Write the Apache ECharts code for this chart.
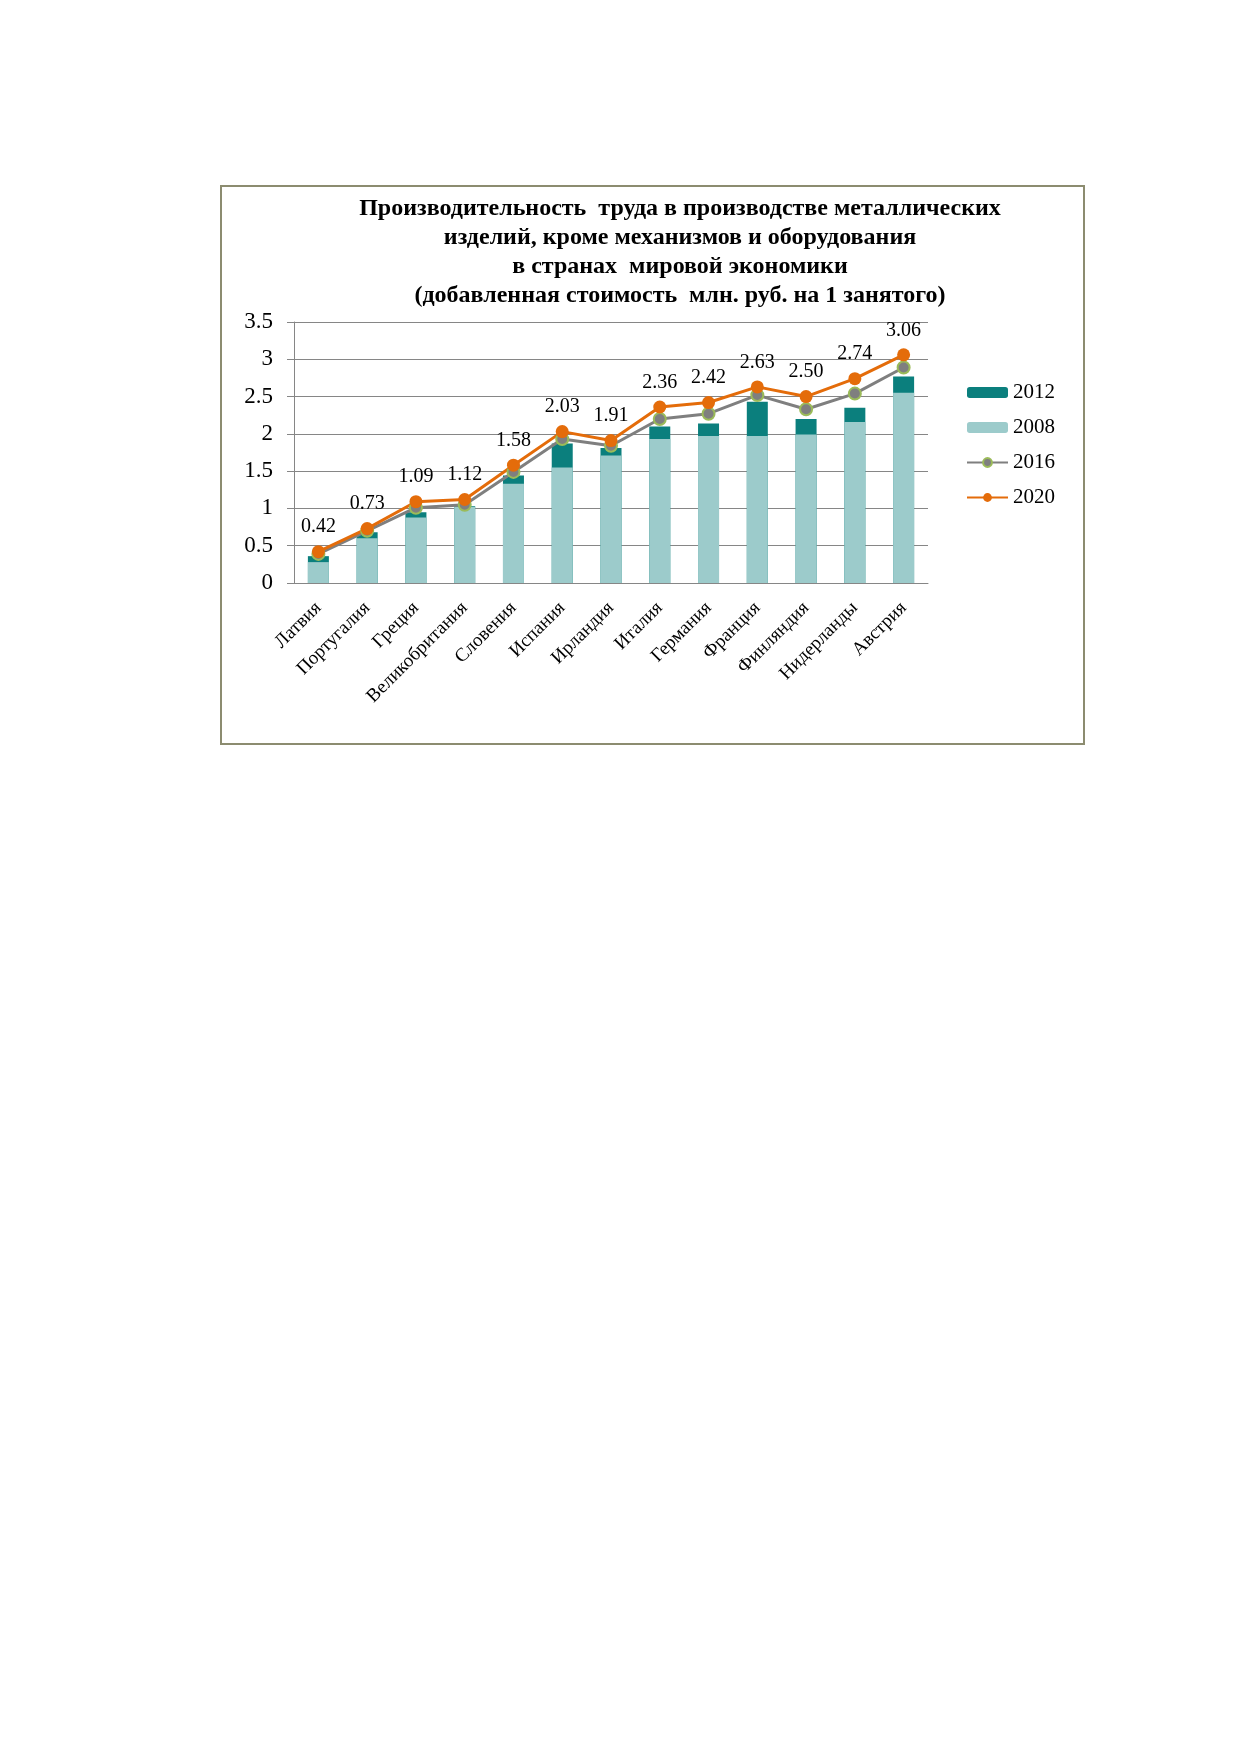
<!DOCTYPE html>
<html>
<head>
<meta charset="utf-8">
<script src="https://cdn.jsdelivr.net/npm/echarts@6.0.0/dist/echarts.min.js"></script>
<style>
html, body { margin: 0; padding: 0; background: #fff; }
#chart { width: 1239px; height: 1752px; }
</style>
</head>
<body>
<div id="chart"></div>
<script>
// данные
var countries = ['Латвия', 'Португалия', 'Греция', 'Великобритания', 'Словения', 'Испания',
	'Ирландия', 'Италия', 'Германия', 'Франция', 'Финляндия', 'Нидерланды', 'Австрия'];
var v2008 = [0.28, 0.60, 0.88, 1.02, 1.33, 1.55, 1.71, 1.93, 1.97, 1.97, 1.99, 2.16, 2.55];
var v2012 = [0.36, 0.68, 0.95, 1.03, 1.44, 1.87, 1.81, 2.10, 2.14, 2.43, 2.20, 2.35, 2.77];
var v2016 = [0.39, 0.70, 1.01, 1.05, 1.49, 1.93, 1.84, 2.20, 2.27, 2.52, 2.33, 2.54, 2.89];
var v2020 = [0.42, 0.73, 1.09, 1.12, 1.58, 2.03, 1.91, 2.36, 2.42, 2.63, 2.50, 2.74, 3.06];

var titleText = 'Производительность  труда в производстве металлических\n' +
	'изделий, кроме механизмов и оборудования\n' +
	'в странах  мировой экономики\n' +
	'(добавленная стоимость  млн. руб. на 1 занятого)';

var serif = 'Liberation Serif';
var myChart = echarts.init(document.getElementById('chart'));
var option = {
	backgroundColor: '#ffffff',
	animation: false,
	graphic: [
		{
			type: 'rect',
			shape: { x: 221, y: 186, width: 863, height: 558 },
			style: { fill: 'none', stroke: '#8c8c70', lineWidth: 2 },
			z: -1
		},
		{
			type: 'text',
			x: 680,
			y: 194,
			style: {
				text: titleText,
				font: 'bold 24px "Liberation Serif"',
				fill: '#000',
				textAlign: 'center',
				textVerticalAlign: 'top',
				lineHeight: 29
			}
		}
	],
	legend: {
		orient: 'vertical',
		left: 966,
		top: 382,
		padding: 0,
		itemWidth: 41,
		itemHeight: 11,
		itemGap: 14,
		data: ['2012', '2008', '2016', '2020'],
		textStyle: { fontFamily: serif, fontSize: 21, color: '#000' }
	},
	grid: {
		left: 294,
		right: 311,
		top: 322,
		bottom: 1169
	},
	xAxis: {
		type: 'category',
		data: countries,
		axisLine: { lineStyle: { color: '#868686', width: 1 } },
		axisTick: { length: 7, lineStyle: { color: '#868686' } },
		axisLabel: {
			rotate: 45,
			margin: 22,
			interval: 0,
			fontFamily: serif,
			fontSize: 19,
			color: '#000'
		}
	},
	yAxis: {
		type: 'value',
		min: 0,
		max: 3.5,
		interval: 0.5,
		axisLine: { show: true, lineStyle: { color: '#868686', width: 1 } },
		axisTick: { show: true, length: 7, lineStyle: { color: '#868686' } },
		splitLine: { lineStyle: { color: '#868686', width: 1 } },
		axisLabel: {
			margin: 21,
			fontFamily: serif,
			fontSize: 23,
			color: '#000'
		}
	},
	series: [
		{
			name: '2012',
			type: 'bar',
			data: v2012,
			barWidth: 21,
			barGap: '-100%',
			itemStyle: { color: '#0b7f7d' }
		},
		{
			name: '2008',
			type: 'bar',
			data: v2008,
			barWidth: 21,
			barGap: '-100%',
			itemStyle: { color: '#9ccbcb' }
		},
		{
			name: '2016',
			type: 'line',
			data: v2016,
			symbol: 'circle',
			symbolSize: 12,
			lineStyle: { color: '#7f7f7f', width: 3 },
			itemStyle: { color: '#7f7f7f', borderColor: '#9bbb59', borderWidth: 2 }
		},
		{
			name: '2020',
			type: 'line',
			data: v2020,
			symbol: 'circle',
			symbolSize: 13,
			lineStyle: { color: '#e46c0a', width: 3 },
			itemStyle: { color: '#e46c0a' },
			label: {
				show: true,
				position: 'top',
				distance: 8,
				fontFamily: serif,
				fontSize: 20,
				color: '#000',
				formatter: function (p) {
					return p.value.toFixed(2);
				}
			}
		}
	]
};
myChart.setOption(option);
</script>
</body>
</html>
